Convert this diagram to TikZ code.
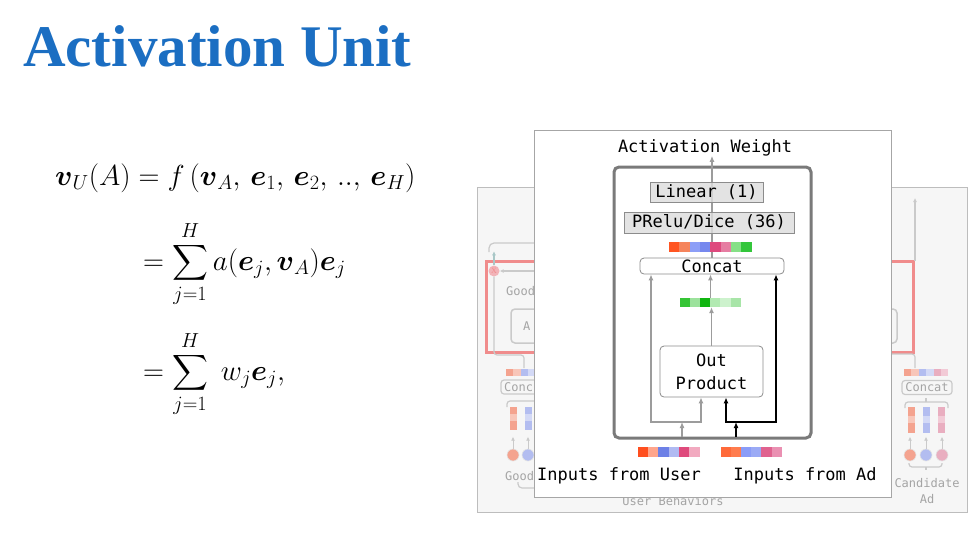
\RequirePackage{fix-cm}
\documentclass[tikz,border=0pt]{standalone}
\usepackage{fontspec}
\setmainfont{Liberation Serif}
\newfontfamily\monofont{DejaVu Sans Mono}
\usepackage{amsmath}
\usetikzlibrary{positioning, arrows.meta, calc}
\definecolor{titleblue}{HTML}{1B6EC2}
\definecolor{panelfill}{HTML}{F6F6F6}
\definecolor{panelline}{HTML}{BDBDBD}
\definecolor{fadeline}{HTML}{CACACA}
\definecolor{fadetext}{HTML}{A4A4A4}
\definecolor{fadered}{HTML}{F08C8C}
\definecolor{fadeteal}{HTML}{A9C7C7}
\definecolor{xpink}{HTML}{F2B3B8}
\definecolor{fsal}{HTML}{F4A38F}
\definecolor{fsallt}{HTML}{F8C6B9}
\definecolor{fblue}{HTML}{B3BDF0}
\definecolor{fbluelt}{HTML}{D3D9F6}
\definecolor{fpink}{HTML}{E9AEC0}
\definecolor{fpinklt}{HTML}{F2CAD6}
\definecolor{cardline}{HTML}{A6A6A6}
\definecolor{framegray}{HTML}{7A7A7A}
\definecolor{boxgray}{HTML}{8C8C8C}
\definecolor{boxfill}{HTML}{DDDDDD}
\definecolor{arrgray}{HTML}{9C9C9C}
% concat cells
\definecolor{cA}{HTML}{FF5522}
\definecolor{cB}{HTML}{F5845C}
\definecolor{cC}{HTML}{8C9EF7}
\definecolor{cD}{HTML}{7688EE}
\definecolor{cE}{HTML}{DE4A7E}
\definecolor{cF}{HTML}{E67DA2}
\definecolor{cG}{HTML}{86E086}
\definecolor{cH}{HTML}{33C63B}
% out product cells
\definecolor{gA}{HTML}{35C435}
\definecolor{gB}{HTML}{9CE29C}
\definecolor{gC}{HTML}{10B510}
\definecolor{gD}{HTML}{B2EAB2}
\definecolor{gE}{HTML}{CDF2CD}
\definecolor{gF}{HTML}{A8E5A8}
% input cells
\definecolor{uA}{HTML}{FF4F1F}
\definecolor{uB}{HTML}{FFA58C}
\definecolor{uC}{HTML}{6D80E6}
\definecolor{uD}{HTML}{B0BAF2}
\definecolor{uE}{HTML}{DF4A7C}
\definecolor{uF}{HTML}{F2AAC0}
\definecolor{aA}{HTML}{FF6A3A}
\definecolor{aB}{HTML}{FF7C4E}
\definecolor{aC}{HTML}{8A9CF8}
\definecolor{aD}{HTML}{9BAAF5}
\definecolor{aE}{HTML}{E0628F}
\definecolor{aF}{HTML}{EA90B2}

\tikzset{
  eq/.style={inner sep=0pt, font=\fontsize{29}{35}\selectfont},
  mono/.style={inner sep=0pt, font=\monofont\fontsize{17}{22}\selectfont},
  fadetxt/.style={inner sep=0pt, text=fadetext, font=\monofont\fontsize{12}{14}\selectfont},
  layerbox/.style={mono, draw=boxgray, fill=boxfill, fill opacity=0.8, text opacity=1, line width=0.8pt},
  opbox/.style={mono, draw=boxgray, fill=white, line width=0.8pt, rounded corners=4pt},
  cellbar/.style={inner sep=0pt, minimum height=10pt},
  garrow/.style={draw=arrgray, line width=1.2pt, -{Latex[length=6pt,width=5pt]}},
  gboth/.style={draw=arrgray, line width=1.2pt, {Latex[length=6pt,width=5pt]}-{Latex[length=6pt,width=5pt]}},
  barrow/.style={draw=black, line width=1.6pt, -{Latex[length=6pt,width=5pt]}},
  bboth/.style={draw=black, line width=1.6pt, {Latex[length=6pt,width=5pt]}-{Latex[length=6pt,width=5pt]}},
  fline/.style={draw=fadeline, line width=1.2pt},
  farrow/.style={draw=fadeline, line width=1.2pt, -{Latex[length=4pt,width=4pt]}},
  fdot/.style={circle, inner sep=0pt, minimum size=12pt, draw=white!50!fadeline, line width=0.6pt},
}

\begin{document}
\begin{tikzpicture}[x=1pt, y=-1pt]
\path[use as bounding box, fill=white] (0,0) rectangle (979,533);

% title and formula
\node[anchor=base west, inner sep=0pt, text=titleblue, font=\bfseries\fontsize{59}{60}\selectfont] (title) at (23,66) {Activation Unit};
\node[eq, anchor=base west] (eq1) at (55,185)
  {$\boldsymbol{v}_U(A) = f\,(\boldsymbol{v}_A,\, \boldsymbol{e}_1,\, \boldsymbol{e}_2,\, ..,\, \boldsymbol{e}_H)$};
\node[eq, anchor=base west] (eq2) at (143,270)
  {$\displaystyle = \sum_{j=1}^{H} a(\boldsymbol{e}_j, \boldsymbol{v}_A)\boldsymbol{e}_j$};
\node[eq, anchor=base west] (eq3) at (143,380)
  {$\displaystyle = \sum_{j=1}^{H}\; w_j\boldsymbol{e}_j,$};

% faded network behind
\node[draw=panelline, fill=panelfill, inner sep=0pt, minimum width=490pt, minimum height=325pt] (panel) at (722,349.5) {};
\draw[fline, rounded corners=5pt] (489,252) -- (489,243) -- (535,243);
\draw[draw=fadered, line width=3pt] (486,261) rectangle (913,352);
\node[circle, fill=xpink, inner sep=0pt, minimum size=11pt, text=fadered, font=\fontsize{8}{8}\selectfont] (xmark) at (494,271) {X};
\coordinate (xin) at (535,271);
\draw[farrow] (xin) -- (xmark.east);
\draw[farrow, draw=fadeteal] (xmark.north) -- ++(0,-14);
\draw[fline, rounded corners=3pt] (xmark.south) -- (494,355) -- (524,355) -- (524,368);
\node[fadetxt, anchor=west] (lgood) at (506,291) {Good};
\draw[fline, line width=1.5pt, rounded corners=4pt] (511,309) rectangle (897,343);
\node[fadetxt, anchor=west] (lunit) at (523,326) {A};

% faded left column
\foreach \c [count=\i from 0] in {fsal,fsallt,fblue,fbluelt}
  \fill[\c] (506+\i*7.4,369) rectangle ++(7.4,7);
\draw[fline, rounded corners=3pt] (501,380) rectangle (553,394);
\node[fadetxt, anchor=west] (lconc) at (504,387) {Conc};
\draw[fline, rounded corners=3pt] (507,407) -- (507,401) -- (535,401);
\fill[fsal] (510,407) rectangle (517,430);
\fill[fsallt] (510,414) rectangle (517,421);
\fill[fblue] (525,407) rectangle (532,430);
\fill[fbluelt] (525,414) rectangle (532,421);
\node[fdot, fill=fsal] (lc1) at (513,455) {};
\node[fdot, fill=fblue] (lc2) at (528,455) {};
\draw[farrow, line width=0.8pt] (lc1.north) -- ++(0,-12);
\draw[farrow, line width=0.8pt] (lc2.north) -- ++(0,-12);
\node[fadetxt, anchor=base west] (lgood2) at (505,480) {Good};
\draw[fline, rounded corners=4pt] (518,482) -- (518,488) -- (535,488);

% faded right column
\coordinate (rbase) at (915,261);
\coordinate (rtop) at (915,198);
\draw[farrow] (rbase) -- (rtop);
\draw[fline, rounded corners=3pt] (891,354) -- (915,354) -- (915,368);
\foreach \c [count=\i from 0] in {fsal,fsallt,fblue,fbluelt,fpink,fpinklt}
  \fill[\c] (904+\i*7.4,369) rectangle ++(7.4,7);
\node[fadetxt, draw=fadeline, line width=1.2pt, rounded corners=3pt, minimum width=50pt, minimum height=14pt] (rconcat) at (927,387.5) {Concat};
\draw[fline, rounded corners=3pt] (905,408) -- (905,402) -- (948,402) -- (948,408);
\draw[fline] (926,402) -- (926,398);
\foreach \c/\d/\x [count=\i] in {fsal/fsallt/908, fblue/fbluelt/923, fpink/fpinklt/938} {
  \fill[\c] (\x,407) rectangle ++(7,26);
  \fill[\d] (\x,416) rectangle ++(7,7);
}
\node[fdot, fill=fsal] (rc1) at (910,455) {};
\node[fdot, fill=fblue] (rc2) at (926,455) {};
\node[fdot, fill=fpink] (rc3) at (942,455) {};
\foreach \n in {rc1,rc2,rc3}
  \draw[farrow, line width=0.8pt] (\n.north) -- ++(0,-12);
\draw[fline, rounded corners=3pt] (909,463) -- (909,467) -- (942,467) -- (942,463);
\draw[fline] (926,467) -- (926,470);
\node[fadetxt] (cand) at (927,483) {Candidate};
\node[fadetxt] (candad) at (927,499) {Ad};
\node[fadetxt, anchor=base] (ubeh) at (673,505) {User Behaviors};

% activation unit card
\node[draw=cardline, fill=white, line width=1pt, inner sep=0pt, minimum width=357pt, minimum height=367pt] (card) at (712.5,313.5) {};
\node[mono, anchor=base] (aw) at (705,152) {Activation Weight};
\node[draw=framegray, line width=3pt, rounded corners=5pt, inner sep=0pt, minimum width=197pt, minimum height=271pt] (frame) at (712.5,302.5) {};
\node[opbox, minimum width=144pt, minimum height=16pt] (concat) at (712,266) {Concat};
\draw[garrow] (concat.north) -- (concat.north |- aw.south);
\node[layerbox, minimum width=113pt, minimum height=20pt] (linear) at (706.5,192) {Linear (1)};
\node[layerbox, minimum width=170pt, minimum height=21pt] (prelu) at (709,222.5) {PRelu/Dice (36)};
\node[cellbar, minimum width=83pt] (catbar) at (710.5,247) {};
\foreach \c [count=\i from 0] in {cA,cB,cC,cD,cE,cF,cG,cH}
  \fill[\c] ($(catbar.north west)+(\i*10.375,0)$) rectangle ++(10.375,10);
\node[cellbar, minimum width=61pt, minimum height=9pt] (gbar) at (710.5,302.5) {};
\foreach \c [count=\i from 0] in {gA,gB,gC,gD,gE,gF}
  \fill[\c] ($(gbar.north west)+(\i*10.17,0)$) rectangle ++(10.17,9);
\node[opbox, align=center, minimum width=103pt, minimum height=51pt] (outprod) at (711.5,371.5) {Out\\[1pt]Product};
\draw[garrow] (outprod.north) -- (outprod.north |- gbar.south);
\draw[garrow] (gbar.north) -- (gbar.north |- concat.south);

% inputs
\node[cellbar, minimum width=62pt] (ubar) at (669,452) {};
\foreach \c [count=\i from 0] in {uA,uB,uC,uD,uE,uF}
  \fill[\c] ($(ubar.north west)+(\i*10.33,0)$) rectangle ++(10.33,10);
\node[cellbar, minimum width=61pt] (abar) at (751.5,452) {};
\foreach \c [count=\i from 0] in {aA,aB,aC,aD,aE,aF}
  \fill[\c] ($(abar.north west)+(\i*10.17,0)$) rectangle ++(10.17,10);
\node[mono, anchor=base] (uin) at (619,480) {Inputs from User};
\node[mono, anchor=base] (ain) at (805,480) {Inputs from Ad};

\coordinate (ul) at (651,422);
\coordinate (ur) at (701,422);
\coordinate (al) at (726,422);
\coordinate (ar) at (776,422);
\coordinate (uentry) at (682,437);
\coordinate (aentry) at (736,437);
\draw[gboth] (ul |- concat.south) -- (ul) -- (ur) -- (ur |- outprod.south);
\draw[garrow] (uentry) -- (uentry |- ul);
\draw[bboth] (al |- outprod.south) -- (al) -- (ar) -- (ar |- concat.south);
\draw[barrow] (aentry) -- (aentry |- al);
\end{tikzpicture}
\end{document}
